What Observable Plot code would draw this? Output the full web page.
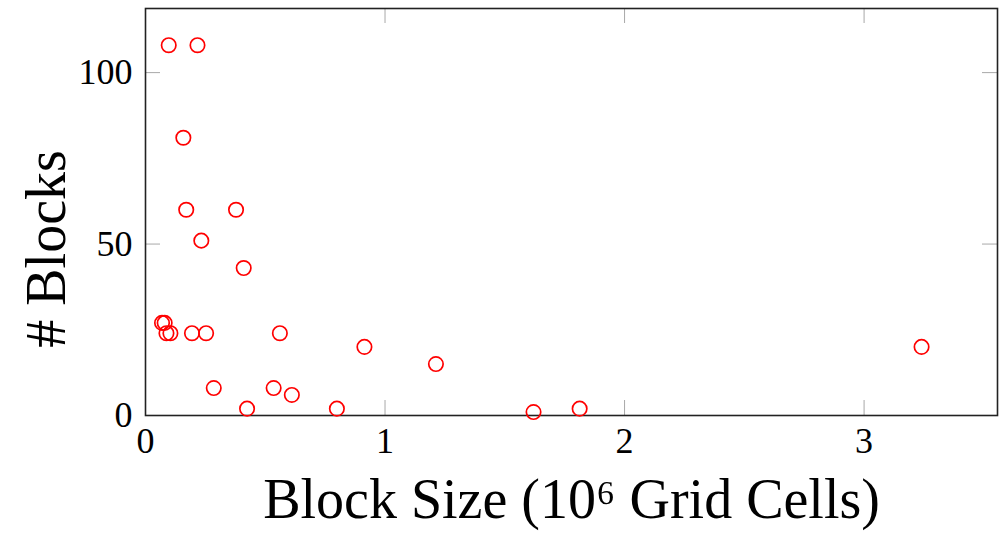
<!DOCTYPE html>
<html><head><meta charset="utf-8">
<script src="https://cdn.jsdelivr.net/npm/d3@7"></script>
<script src="https://cdn.jsdelivr.net/npm/@observablehq/plot@0.6"></script>
<style>body{margin:0;background:#fff} svg{display:block}</style>
</head><body><div id="chart"></div>
<script>
const blockSize = [0.097, 0.217, 0.158, 0.17, 0.378, 0.233, 0.41, 0.069, 0.08, 0.0875, 0.104, 0.194, 0.253, 0.561, 0.914, 1.2125, 0.285, 0.535, 0.611, 0.424, 0.799, 1.62, 1.8125, 3.24];
const numBlocks = [108, 108, 81, 60, 60, 51, 43, 27, 27, 24, 24, 24, 24, 24, 20, 15, 8, 8, 6, 2, 2, 1, 2, 20];
const xTicks = [0, 1, 2, 3];
const yTicks = [0, 50, 100];
const xLabel = "Block Size (10⁶ Grid Cells)";
const yLabel = "# Blocks";

const data = blockSize.map((x, i) => ({x, y: numBlocks[i]}));
const W = 999, H = 533, mL = 145, mR = 2, mT = 8, mB = 118;
const plotW = W - mL - mR, plotH = H - mT - mB, tickLen = 15;
const tickColor = "#a8a8a8";

const chart = Plot.plot({
  width: W, height: H,
  marginLeft: mL, marginRight: mR, marginTop: mT, marginBottom: mB,
  style: {fontFamily: "'Liberation Serif', 'DejaVu Serif', serif", background: "white", color: "black"},
  x: {domain: [0, 3.557]},
  y: {domain: [0, 118.7]},
  marks: [
    Plot.tickX(xTicks, {stroke: tickColor, insetTop: plotH - tickLen}),
    Plot.tickX(xTicks, {stroke: tickColor, insetBottom: plotH - tickLen}),
    Plot.tickY(yTicks, {stroke: tickColor, insetRight: plotW - tickLen}),
    Plot.tickY(yTicks, {stroke: tickColor, insetLeft: plotW - tickLen}),
    Plot.axisX({ticks: xTicks, tickFormat: d => String(d), tickSize: 0, tickPadding: 12, fontSize: 36, label: null}),
    Plot.axisY({ticks: yTicks, tickFormat: d => String(d), tickSize: 0, tickPadding: 13, fontSize: 36, label: null}),
    Plot.frame({stroke: "#222", strokeWidth: 1.6}),
    Plot.dot(data, {x: "x", y: "y", r: 7.2, stroke: "#ff0000", strokeWidth: 1.7, fill: "none"}),
    Plot.text([xLabel], {text: d => d, frameAnchor: "bottom", lineAnchor: "middle", textAnchor: "middle", dy: 85, fontSize: 56}),
    Plot.text([yLabel], {text: d => d, frameAnchor: "left", lineAnchor: "middle", textAnchor: "middle", rotate: -90, dx: -98, dy: 37, fontSize: 56})
  ]
});
document.getElementById("chart").appendChild(chart);
</script>
</body></html>
